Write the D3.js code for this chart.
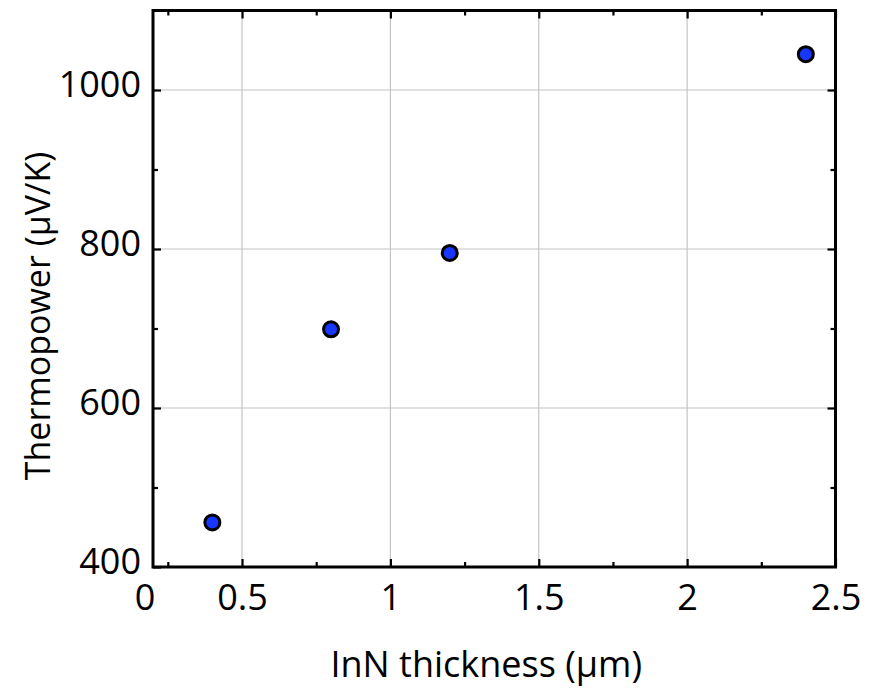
<!DOCTYPE html>
<html>
<head>
<meta charset="utf-8">
<script src="https://cdn.jsdelivr.net/npm/d3@7"></script>
<style>
  body { margin: 0; background: #fff; }
  text { font-family: "Open Sans", "Noto Sans", sans-serif; fill: #000; }
</style>
</head>
<body>
<svg id="chart"></svg>
<script>
const thickness = [0.4, 0.8, 1.2, 2.4];
const thermopower = [456, 699, 795, 1045];
const xMajor = [0.5, 1, 1.5, 2, 2.5];
const xMinor = [0.25, 0.75, 1.25, 1.75, 2.25];
const yMajor = [400, 600, 800, 1000];
const yMinor = [500, 700, 900];
const originLabel = "0";

const margin = {top: 10.5, right: 36.5, bottom: 131, left: 153};
const W = 872, H = 698;
const width = W - margin.left - margin.right;
const height = H - margin.top - margin.bottom;

const svg = d3.select("#chart").attr("width", W).attr("height", H);
const g = svg.append("g").attr("transform", `translate(${margin.left},${margin.top})`);

const x = d3.scaleLinear().domain([0.2, 2.5]).range([0, width]);
const y = d3.scaleLinear().domain([400, 1100]).range([height, 0]);

// grid
g.append("g").selectAll("line").data(xMajor.filter(d => d < 2.5)).join("line")
    .attr("x1", d => x(d)).attr("x2", d => x(d)).attr("y1", 0).attr("y2", height)
    .attr("stroke", "#c4c4c4").attr("stroke-width", 1.2);
g.append("g").selectAll("line").data(yMajor.filter(d => d > 400)).join("line")
    .attr("y1", d => y(d)).attr("y2", d => y(d)).attr("x1", 0).attr("x2", width)
    .attr("stroke", "#c4c4c4").attr("stroke-width", 1.2);

function styleAxis(sel) {
    sel.select(".domain").remove();
    sel.selectAll(".tick line").attr("stroke", "#000").attr("stroke-width", 2.2);
    sel.selectAll("text").style("font-size", "36px").attr("fill", "#000");
}

// bottom / top ticks
g.append("g").attr("transform", `translate(0,${height})`)
    .call(d3.axisBottom(x).tickValues(xMajor).tickSizeInner(-8).tickSizeOuter(0).tickPadding(17).tickFormat(d3.format("")))
    .call(styleAxis)
    .style("font-family", null);
g.append("g").attr("transform", `translate(0,${height})`)
    .call(d3.axisBottom(x).tickValues(xMinor).tickSizeInner(-5).tickSizeOuter(0).tickFormat(""))
    .call(styleAxis);
g.append("g")
    .call(d3.axisTop(x).tickValues(xMajor).tickSizeInner(-8).tickSizeOuter(0).tickFormat(""))
    .call(styleAxis);
g.append("g")
    .call(d3.axisTop(x).tickValues(xMinor).tickSizeInner(-5).tickSizeOuter(0).tickFormat(""))
    .call(styleAxis);

// left / right ticks
g.append("g")
    .call(d3.axisLeft(y).tickValues(yMajor).tickSizeInner(-8).tickSizeOuter(0).tickPadding(12).tickFormat(d3.format("")))
    .call(styleAxis)
    .selectAll(".tick text").attr("dy", "0.18em");
g.append("g")
    .call(d3.axisLeft(y).tickValues(yMinor).tickSizeInner(-5).tickSizeOuter(0).tickFormat(""))
    .call(styleAxis);
g.append("g").attr("transform", `translate(${width},0)`)
    .call(d3.axisRight(y).tickValues(yMajor.filter(d => d > 400)).tickSizeInner(-8).tickSizeOuter(0).tickFormat(""))
    .call(styleAxis);
g.append("g").attr("transform", `translate(${width},0)`)
    .call(d3.axisRight(y).tickValues(yMinor).tickSizeInner(-5).tickSizeOuter(0).tickFormat(""))
    .call(styleAxis);

g.append("text")
    .attr("x", x(0.2) - 8).attr("y", height + 17).attr("dy", "0.71em")
    .attr("text-anchor", "middle").style("font-size", "36px")
    .text(originLabel);

// frame
g.append("rect").attr("width", width).attr("height", height)
    .attr("fill", "none").attr("stroke", "#000").attr("stroke-width", 3);

// points
g.append("g").selectAll("circle").data(thickness.map((t, i) => [t, thermopower[i]])).join("circle")
    .attr("cx", d => x(d[0])).attr("cy", d => y(d[1])).attr("r", 7.5)
    .attr("fill", "#1737ff").attr("stroke", "#000").attr("stroke-width", 3);

// axis titles
svg.append("text")
    .attr("x", margin.left + width / 2 - 8).attr("y", 677)
    .attr("text-anchor", "middle").style("font-size", "36px")
    .text("InN thickness (µm)");
svg.append("text")
    .attr("transform", "translate(50,316) rotate(-90)")
    .attr("text-anchor", "middle").style("font-size", "34px")
    .text("Thermopower (µV/K)");
</script>
</body>
</html>
